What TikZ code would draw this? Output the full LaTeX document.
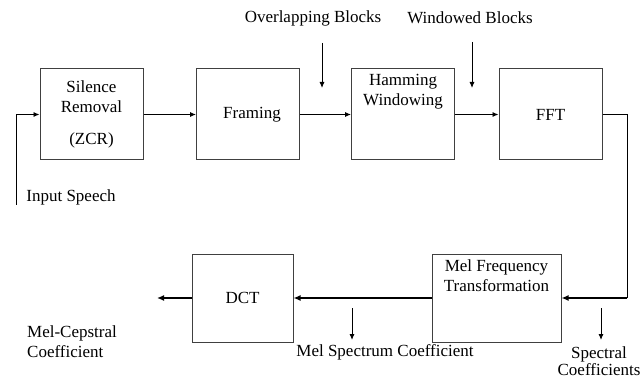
\documentclass[tikz,border=0pt]{standalone}
\usepackage{fontspec}
\setmainfont{Liberation Serif}
\usetikzlibrary{arrows.meta}

\begin{document}
\begin{tikzpicture}[x=1pt,y=-1pt,
      font=\fontsize{17}{20}\selectfont,
      blk/.style={draw=black!75,line width=1pt,minimum width=103pt,minimum height=91pt,inner sep=0pt,align=center},
      lowblk/.style={blk,minimum height=88pt},
      flow/.style={line width=0.9pt,-{Latex[length=6pt,width=5pt]}},
      bigflow/.style={line width=2pt,-{Latex[length=7pt,width=6pt]}},
      txt/.style={inner sep=0pt,align=center}]
      \useasboundingbox (0,0) rectangle (644,379);
      % upper row
      \node[blk] (sil) at (91.5,114.5) {Silence\\Removal\\[12pt](ZCR)};
      \node[blk] (frm) at (248,114.5) {\hspace*{8pt}\raisebox{-8pt}{Framing}};
      \node[blk,label={[txt,anchor=north,yshift=-6pt]north:Hamming\\Windowing}] (ham) at (403,114.5) {};
      \node[blk] (fft) at (550.5,114.5) {FFT};
      % lower row
      \node[lowblk,minimum width=129pt,label={[txt,anchor=north,yshift=-6pt]north:Mel Frequency\\Transformation}] (mel) at (496.5,298) {};
      \node[lowblk,minimum width=101pt] (dct) at (242.5,298) {\raisebox{-8pt}{DCT}};
      % free ends
      \coordinate (in) at (16,205);
      \coordinate (turn) at (627,114.5);
      \coordinate (corner) at (627,298);
      \coordinate (out) at (157,298);
      % labels
      \node[txt] (inlbl) at (71,197) {Input Speech};
      \node[txt] (ovl) at (313,18) {Overlapping Blocks};
      \node[txt] (win) at (470,18) {Windowed Blocks};
      \node[txt] (melsp) at (385,352) {Mel Spectrum Coefficient};
      \node[txt,font=\fontsize{17}{17}\selectfont] (spec) at (599,361) {Spectral\\Coefficients};
      \node[txt,align=left,anchor=west] (mcc) at (27,342) {Mel-Cepstral\\Coefficient};
      % connectors
      \draw[flow] (in) |- (sil.west);
      \draw[flow] (sil.east) -- (frm.west);
      \draw[flow] (frm.east) -- (ham.west);
      \draw[flow] (ham.east) -- (fft.west);
      \draw[line width=0.9pt] (fft.east) -- (turn) -- (corner);
      \draw[bigflow] (corner) -- (mel.east);
      \draw[bigflow] (mel.west) -- (dct.east);
      \draw[bigflow] (dct.west) -- (out);
      \draw[flow] (322,43) -- (322,88);
      \draw[flow] (472,42) -- (472,88);
      \draw[flow] (352,308) -- (352,340);
      \draw[flow] (601,308) -- (601,340);
    \end{tikzpicture}
\end{document}
